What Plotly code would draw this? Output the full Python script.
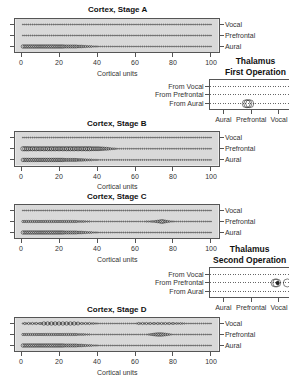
import plotly.graph_objects as go

W, H = 289, 380
FONT = "Liberation Sans, Arial, sans-serif"

units = list(range(1, 101))
row_names = ["Aural", "Prefrontal", "Vocal"]
cortex_ticks = [0, 20, 40, 60, 80, 100]
thal_rows = ["From Aural", "From Prefrontal", "From Vocal"]
thal_cols = ["Aural", "Prefrontal", "Vocal"]

# activation levels (0-9) of the 100 cortical units in each row
silent = [
    0, 0, 0, 0, 0, 0, 0, 0, 0, 0,
    0, 0, 0, 0, 0, 0, 0, 0, 0, 0,
    0, 0, 0, 0, 0, 0, 0, 0, 0, 0,
    0, 0, 0, 0, 0, 0, 0, 0, 0, 0,
    0, 0, 0, 0, 0, 0, 0, 0, 0, 0,
    0, 0, 0, 0, 0, 0, 0, 0, 0, 0,
    0, 0, 0, 0, 0, 0, 0, 0, 0, 0,
    0, 0, 0, 0, 0, 0, 0, 0, 0, 0,
    0, 0, 0, 0, 0, 0, 0, 0, 0, 0,
    0, 0, 0, 0, 0, 0, 0, 0, 0, 0,
]
aural_in = [
    6, 6, 6, 6, 6, 6, 6, 6, 6, 6,
    6, 6, 6, 6, 6, 6, 6, 6, 6, 6,
    6, 6, 5, 5, 5, 5, 5, 5, 5, 4,
    4, 4, 3, 3, 2, 2, 2, 1, 1, 1,
    0, 0, 0, 0, 0, 0, 0, 0, 0, 0,
    0, 0, 0, 0, 0, 0, 0, 0, 0, 0,
    0, 0, 0, 0, 0, 0, 0, 0, 0, 0,
    0, 0, 0, 0, 0, 0, 0, 0, 0, 0,
    0, 0, 0, 0, 0, 0, 0, 0, 0, 0,
    0, 0, 0, 0, 0, 0, 0, 0, 0, 0,
]
B_prefrontal = [
    8, 8, 8, 8, 7, 8, 7, 8, 7, 8,
    7, 8, 7, 8, 7, 8, 7, 8, 7, 8,
    7, 8, 7, 8, 7, 8, 7, 8, 7, 8,
    7, 8, 7, 8, 7, 8, 7, 7, 7, 7,
    7, 6, 6, 5, 5, 4, 3, 2, 2, 1,
    0, 0, 0, 0, 0, 0, 0, 0, 0, 0,
    0, 0, 0, 0, 0, 0, 0, 0, 0, 0,
    0, 0, 0, 0, 0, 0, 0, 0, 0, 0,
    0, 0, 0, 0, 0, 0, 0, 0, 0, 0,
    0, 0, 0, 0, 0, 0, 0, 0, 0, 0,
]
C_prefrontal = [
    3, 3, 3, 3, 3, 3, 3, 3, 3, 3,
    3, 3, 3, 3, 3, 3, 3, 3, 3, 3,
    3, 3, 3, 3, 3, 3, 3, 3, 3, 2,
    2, 2, 2, 1, 1, 1, 0, 0, 0, 0,
    0, 0, 0, 0, 0, 0, 0, 0, 0, 0,
    0, 0, 0, 0, 0, 0, 0, 0, 0, 0,
    0, 0, 0, 0, 0, 1, 1, 1, 2, 2,
    3, 4, 5, 7, 6, 4, 3, 2, 1, 1,
    0, 0, 0, 0, 0, 0, 0, 0, 0, 0,
    0, 0, 0, 0, 0, 0, 0, 0, 0, 0,
]
D_prefrontal = [
    3, 3, 3, 3, 3, 3, 3, 3, 3, 3,
    3, 3, 3, 3, 3, 3, 3, 3, 3, 3,
    3, 3, 3, 3, 3, 3, 3, 3, 3, 2,
    2, 2, 2, 1, 1, 1, 0, 0, 0, 0,
    0, 0, 0, 0, 0, 0, 0, 0, 0, 0,
    0, 0, 0, 0, 0, 0, 0, 0, 0, 0,
    0, 0, 0, 0, 0, 0, 1, 2, 3, 4,
    5, 6, 6, 6, 5, 4, 3, 2, 1, 0,
    0, 0, 0, 0, 0, 0, 0, 0, 0, 0,
    0, 0, 0, 0, 0, 0, 0, 0, 0, 0,
]
D_vocal = [
    1, 3, 1, 3, 1, 3, 1, 3, 1, 3,
    2, 6, 2, 6, 2, 6, 2, 6, 2, 6,
    2, 6, 2, 6, 2, 6, 2, 6, 2, 5,
    1, 3, 1, 3, 1, 3, 1, 2, 1, 1,
    0, 0, 0, 0, 0, 0, 0, 0, 0, 0,
    0, 0, 0, 0, 0, 0, 0, 0, 0, 0,
    1, 3, 1, 3, 1, 3, 1, 3, 1, 3,
    1, 3, 1, 3, 1, 3, 1, 3, 1, 3,
    1, 2, 1, 2, 1, 1, 0, 0, 0, 0,
    0, 0, 0, 0, 0, 0, 0, 0, 0, 0,
]

stages = {
    "A": {"Aural": aural_in, "Prefrontal": silent, "Vocal": silent},
    "B": {"Aural": aural_in, "Prefrontal": B_prefrontal, "Vocal": silent},
    "C": {"Aural": aural_in, "Prefrontal": C_prefrontal, "Vocal": silent},
    "D": {"Aural": aural_in, "Prefrontal": D_prefrontal, "Vocal": D_vocal},
}

# thalamic relay units: source row, target position, activation
thal1_from = [1, 1, 1]
thal1_to = [1.82, 1.88, 1.95]
thal1_level = [8, 8, 8]
thal2_from = [2, 2, 2]
thal2_to = [2.86, 2.92, 3.30]
thal2_level = [8, 8, 8]
thal2_core_from = [2]
thal2_core_to = [2.95]

# ---- layout geometry (pixels) ----
cx0, cx1 = 15.4, 218.5
boxes = {"A": (19, 52), "B": (132, 165.5), "C": (205, 238), "D": (318, 351)}
thal_boxes = [(80, 109), (268, 297)]
tx0 = 210


def ydom(top, bot):
    return [1 - bot / H, 1 - top / H]


fig = go.Figure()
layout = dict(
    width=W, height=H, margin=dict(l=0, r=0, t=0, b=0),
    paper_bgcolor="white", plot_bgcolor="white", showlegend=False,
    font=dict(family=FONT, size=7, color="#333"),
)
annotations = []
shapes = []
AX = "#555"

for i, (st, rows) in enumerate(stages.items()):
    n = i + 1
    xa = "xaxis" if n == 1 else f"xaxis{n}"
    ya = "yaxis" if n == 1 else f"yaxis{n}"
    xr = "x" if n == 1 else f"x{n}"
    yr = "y" if n == 1 else f"y{n}"
    top, bot = boxes[st]
    layout[xa] = dict(
        domain=[cx0 / W, cx1 / W], range=[-2.96, 103.96], anchor=yr,
        tickvals=cortex_ticks, ticks="outside", ticklen=4, tickcolor=AX,
        showline=True, linecolor=AX, linewidth=1, mirror=True,
        showgrid=False, zeroline=False, tickfont=dict(size=7, color="#333"),
    )
    layout[ya] = dict(
        domain=ydom(top, bot), range=[0.5, 3.5], anchor=xr, side="right",
        tickvals=[1, 2, 3], ticktext=row_names, ticks="outside", ticklen=4,
        tickcolor=AX, showline=True, linecolor=AX, linewidth=1, mirror="ticks",
        showgrid=False, zeroline=False, tickfont=dict(size=7, color="#333"),
    )
    shapes.append(dict(type="rect", xref=f"{xr} domain", yref=f"{yr} domain",
                       x0=0, x1=1, y0=0, y1=1, fillcolor="#d9d9d9",
                       line=dict(width=0), layer="below"))
    for k, rn in enumerate(row_names):
        lv = rows[rn]
        fig.add_trace(go.Scatter(
            x=units, y=[k + 1] * len(units), mode="markers", xaxis=xr, yaxis=yr,
            marker=dict(symbol="circle-open", size=[1 + 0.42 * v for v in lv],
                        color="#111", line=dict(width=0.7, color="#111")),
            hoverinfo="skip",
        ))
    annotations.append(dict(text=f"<b>Cortex, Stage {st}</b>", xref="paper", yref="paper",
                            x=117 / W, y=1 - (top - 9) / H, showarrow=False,
                            font=dict(size=8, color="#111"), xanchor="center", yanchor="middle"))
    annotations.append(dict(text="Cortical units", xref="paper", yref="paper",
                            x=117 / W, y=1 - (bot + 21) / H, showarrow=False,
                            font=dict(size=7, color="#333"), xanchor="center", yanchor="middle"))

thal_data = [
    (thal1_from, thal1_to, thal1_level, None, None, "First Operation"),
    (thal2_from, thal2_to, thal2_level, thal2_core_from, thal2_core_to, "Second Operation"),
]
for j, (fr, to, lvl, cfr, cto, name) in enumerate(thal_data):
    n = 5 + j
    xa, ya, xr, yr = f"xaxis{n}", f"yaxis{n}", f"x{n}", f"y{n}"
    top, bot = thal_boxes[j]
    layout[xa] = dict(
        domain=[tx0 / W, 1.0], range=[0.52, 3.36], anchor=yr,
        tickvals=[1, 2, 3], ticktext=thal_cols, ticks="outside", ticklen=4,
        tickcolor=AX, showline=True, linecolor=AX, linewidth=1, mirror=True,
        showgrid=False, zeroline=False, tickfont=dict(size=7, color="#333"),
    )
    layout[ya] = dict(
        domain=ydom(top, bot), range=[0.4, 3.7], anchor=xr,
        tickvals=[1, 2, 3], ticktext=thal_rows, ticks="outside", ticklen=4,
        tickcolor=AX, showline=True, linecolor=AX, linewidth=1,
        showgrid=True, gridcolor="#666", gridwidth=0.7, griddash="1px,1.5px",
        zeroline=False, tickfont=dict(size=7, color="#333"),
    )
    fig.add_trace(go.Scatter(
        x=to, y=fr, mode="markers", xaxis=xr, yaxis=yr,
        marker=dict(symbol="circle-open", size=[v for v in lvl], color="#222",
                    line=dict(width=0.8, color="#222")),
        hoverinfo="skip",
    ))
    if cto:
        fig.add_trace(go.Scatter(
            x=cto, y=cfr, mode="markers", xaxis=xr, yaxis=yr,
            marker=dict(symbol="circle", size=4, color="#222"), hoverinfo="skip",
        ))
    annotations.append(dict(text=f"<b>Thalamus</b><br><b>{name}</b>", xref="paper", yref="paper",
                            x=288 / W, y=1 - (top - 1) / H, showarrow=False, align="center",
                            font=dict(size=8.5, color="#111"), xanchor="right", yanchor="bottom"))

layout["annotations"] = annotations
layout["shapes"] = shapes
fig.update_layout(**layout)
fig.write_html("out.html", config={"displayModeBar": False},
               post_script="document.body.style.margin='0px';")
